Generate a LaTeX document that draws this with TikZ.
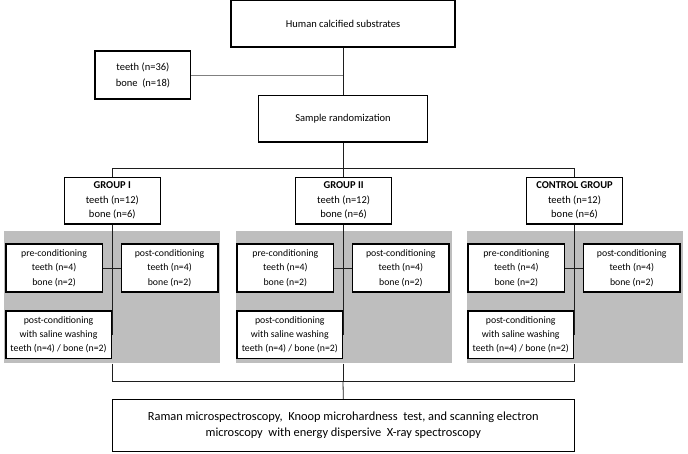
\documentclass[tikz,border=0pt]{standalone}
\usepackage{fontspec}
\setmainfont{Carlito}
\definecolor{panelgray}{RGB}{190,190,190}
\definecolor{linegray}{RGB}{30,30,30}
\begin{document}
\begin{tikzpicture}[x=1pt,y=-1pt,
  box/.style={draw=black, line width=1.4pt, fill=white, inner sep=0pt, align=center,
    font=\fontsize{10.5}{14.5}\selectfont},
  inbox/.style={box, font=\fontsize{9.8}{14.5}\selectfont},
  panel/.style={fill=panelgray, draw=none, inner sep=0pt, minimum width=216pt, minimum height=132.6pt},
  conn/.style={draw=linegray, line width=0.8pt}]
\useasboundingbox (0,0) rectangle (688,454);

\node[box, minimum width=224pt, minimum height=47pt] (top) at (343,23.5) {Human calcified substrates};
\node[box, minimum width=95.7pt, minimum height=48pt, font=\fontsize{10.5}{16}\selectfont] (n36) at (142.9,75.2) {teeth (n=36)\\bone\ \ (n=18)};
\node[box, minimum width=169.5pt, minimum height=46.5pt] (rand) at (343,118.8) {Sample randomization};

\coordinate (bus) at (343,168);
\coordinate (lowbus) at (343,381);

\draw[conn] (top.south) -- (rand.north);
\draw[conn, draw=gray] (n36.east) -- (top.south |- n36.east);

\foreach \i/\cx/\name in {1/112.3/{GROUP I}, 2/343.6/{GROUP II}, 3/574.5/{CONTROL GROUP}} {
  \node[panel] (pan\i) at (\cx,297) {};
  \node[box, minimum width=96pt, minimum height=46.7pt] (g\i) at (\cx,200.7)
    {\textbf{\name}\\teeth (n=12)\\bone (n=6)};
  \node[inbox, minimum width=96.5pt, minimum height=48pt] (pre\i) at (\cx-58.25,268)
    {pre-conditioning\\teeth (n=4)\\bone (n=2)};
  \node[inbox, minimum width=96.5pt, minimum height=48pt] (post\i) at (\cx+57.25,268)
    {post-conditioning\\teeth (n=4)\\bone (n=2)};
  \node[inbox, minimum width=105.5pt, minimum height=47.3pt, font=\fontsize{9.8}{13.6}\selectfont] (sal\i) at (\cx-53.75,334.7)
    {post-conditioning\\with saline washing\\teeth (n=4) / bone (n=2)};
  \draw[conn] (g\i.south) -- (g\i.south |- sal\i.east) -- (sal\i.east);
  \draw[conn] (pre\i.east) -- (post\i.west);
  \draw[conn] (pan\i.south) -- (pan\i.south |- lowbus);
}

\draw[conn] (rand.south) -- (bus);
\draw[conn] (g1.north) -- (g1.north |- bus) -- (g3.north |- bus) -- (g3.north);
\draw[conn] (g2.north) -- (g2.north |- bus);

\node[box, line width=1pt, minimum width=462pt, minimum height=52.4pt, font=\fontsize{12.4}{15.6}\selectfont] (res) at (343.3,425.5)
  {Raman microspectroscopy,\ \ Knoop microhardness\ \ test, and scanning electron\\microscopy\ \ with energy dispersive\ \ X-ray spectroscopy};
\draw[conn] (pan1.south |- lowbus) -- (pan3.south |- lowbus);
\draw[conn] (lowbus) -- (res.north);
\end{tikzpicture}
\end{document}
